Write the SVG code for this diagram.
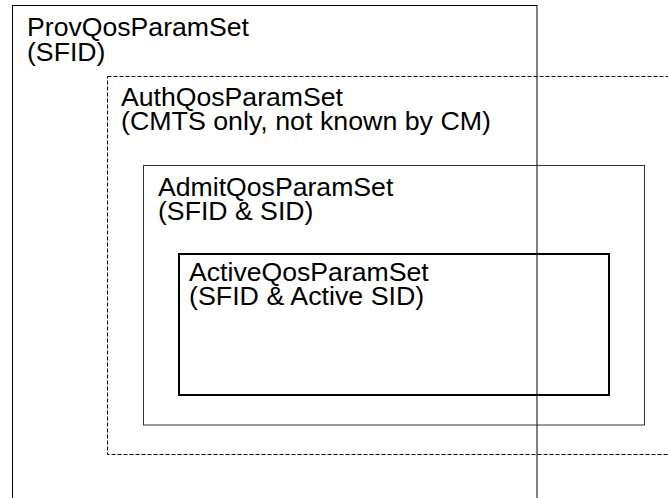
<svg xmlns="http://www.w3.org/2000/svg" width="668" height="498" viewBox="0 0 668 498">
<style>
text{font-family:"Liberation Sans",Arial,sans-serif;font-size:25.5px;fill:#000}
.box{fill:none;stroke:#000;stroke-width:1}
.dash{fill:none;stroke:#000;stroke-width:1;stroke-dasharray:4,2}
.thin{fill:none;stroke:#333;stroke-width:1}
.thick{fill:none;stroke:#000;stroke-width:2}
</style>
<rect width="668" height="498" fill="#fff"/>
<g id="prov">
<rect class="box" x="12.5" y="5.5" width="524.5" height="510"/>
<text x="27" y="36" textLength="222" lengthAdjust="spacingAndGlyphs">ProvQosParamSet</text>
<text x="27" y="61" textLength="78.4" lengthAdjust="spacingAndGlyphs">(SFID)</text>
</g>
<g id="auth">
<rect class="dash" x="107.5" y="76.5" width="580" height="378"/>
<text x="121" y="106" textLength="222" lengthAdjust="spacingAndGlyphs">AuthQosParamSet</text>
<text x="121" y="130" textLength="370" lengthAdjust="spacingAndGlyphs">(CMTS only, not known by CM)</text>
</g>
<g id="admit">
<rect class="thin" x="143.5" y="165.5" width="501" height="259.5"/>
<text x="158" y="196" textLength="235.3" lengthAdjust="spacingAndGlyphs">AdmitQosParamSet</text>
<text x="158" y="220" textLength="155.4" lengthAdjust="spacingAndGlyphs">(SFID &amp; SID)</text>
</g>
<g id="active">
<rect class="thick" x="179" y="254" width="430" height="141"/>
<text x="189" y="281" textLength="239.7" lengthAdjust="spacingAndGlyphs">ActiveQosParamSet</text>
<text x="189" y="305" textLength="235.3" lengthAdjust="spacingAndGlyphs">(SFID &amp; Active SID)</text>
</g>
<g id="connectors"></g>
</svg>
